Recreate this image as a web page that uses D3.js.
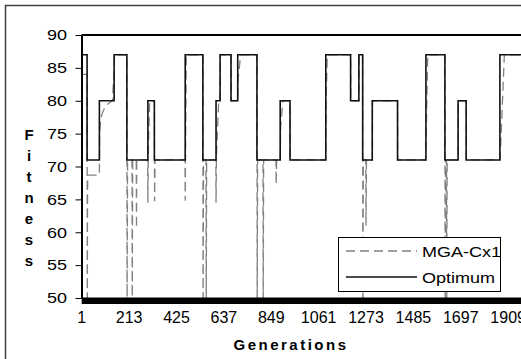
<!DOCTYPE html>
<html>
<head>
<meta charset="utf-8">
<script src="https://cdn.jsdelivr.net/npm/d3@7"></script>
<style>
  body { margin: 0; background: #fff; }
  svg { display: block; }
  text { font-family: "Liberation Sans", Arial, sans-serif; fill: #000; }
</style>
</head>
<body>
<svg id="chart" width="521" height="359"></svg>
<script>
// ---- data ----
const yTicks = [50, 55, 60, 65, 70, 75, 80, 85, 90];
const xLabels = [1, 213, 425, 637, 849, 1061, 1273, 1485, 1697, 1909];
const totalGens = 2000;
const titleLetters = ['F', 'i', 't', 'n', 'e', 's', 's'];

// Optimum: generation where each new level starts, and that level
const optGen = [1, 25, 80, 146, 203, 297, 326, 464, 543, 602, 620, 669, 699, 785, 889, 933,
  1093, 1204, 1241, 1258, 1301, 1414, 1541, 1626, 1685, 1721, 1872];
const optVal = [87, 71, 80, 87, 71, 80, 71, 87, 71, 80, 87, 80, 87, 71, 80, 71,
  87, 80, 87, 71, 80, 71, 87, 71, 80, 71, 87];

// MGA-Cx1: best fitness, sampled at the generations where it changes
const mgaGen = [1, 25, 26, 27, 28, 80, 81, 87, 95, 110, 130, 139, 148,
  203, 204, 206, 226, 227, 229, 245, 246, 247, 296, 297, 299, 305, 326, 327, 329,
  463, 464, 469, 543, 544, 546, 557, 558, 560, 601, 602, 604, 614, 620, 622,
  669, 670, 699, 700, 712, 785, 786, 788, 812, 813, 815, 870, 871, 873,
  889, 891, 901, 933, 934, 1093, 1095, 1100, 1204, 1205, 1241, 1242,
  1258, 1259, 1261, 1272, 1273, 1275, 1301, 1302, 1414, 1415, 1540, 1549,
  1626, 1627, 1629, 1633, 1634, 1636, 1685, 1686, 1721, 1722, 1872, 1876, 1892, 2000];
const mgaVal = [84, 84, 48, 66, 68.7, 68.7, 75.3, 77.4, 78.3, 79.3, 79.8, 80, 87,
  87, 48, 71, 71, 48, 71, 71, 60.6, 71, 71, 64.5, 72.5, 80, 80, 64.7, 71,
  71, 64.8, 87, 87, 48, 71, 71, 48, 71, 71, 64.5, 72, 80, 80, 87,
  87, 80, 80, 83, 87, 87, 48, 71, 71, 48, 71, 71, 67.3, 71,
  71, 76, 80, 80, 71, 71, 81, 87, 87, 80, 80, 87,
  87, 48, 71, 71, 61, 71, 71, 80, 80, 71, 71, 87,
  87, 48, 71, 71, 48, 71, 71, 80, 80, 71, 71, 73.6, 87, 87];

// ---- layout ----
const plotLeft = 81.5, plotRight = 528.5, plotTop = 35, plotBottom = 298;
const textStretch = 1.2;

const svg = d3.select('#chart');

// outer chart frame (right and bottom edges fall outside the picture)
svg.append('rect')
  .attr('x', 5.5).attr('y', 5.5)
  .attr('width', 600).attr('height', 400)
  .attr('fill', 'none')
  .attr('stroke', '#404040')
  .attr('stroke-width', 1.5);

const x = d3.scaleLinear().domain([0, totalGens]).range([plotLeft, plotRight]);
const y = d3.scaleLinear().domain([50, 90]).range([plotBottom, plotTop]);

svg.append('clipPath').attr('id', 'plotClip')
  .append('rect')
  .attr('x', plotLeft).attr('y', plotTop)
  .attr('width', plotRight - plotLeft).attr('height', plotBottom - plotTop);

// top line at 90
svg.append('line')
  .attr('x1', plotLeft).attr('x2', plotRight)
  .attr('y1', y(90)).attr('y2', y(90))
  .attr('stroke', '#000').attr('stroke-width', 2);

// series
const mgaData = mgaGen.map((g, i) => [g, mgaVal[i]]);
const optData = optGen.map((g, i) => [g, optVal[i]]).concat([[totalGens, optVal[optVal.length - 1]]]);

const plot = svg.append('g').attr('clip-path', 'url(#plotClip)');

plot.append('path')
  .datum(mgaData)
  .attr('fill', 'none')
  .attr('stroke', '#808080')
  .attr('stroke-width', 1.3)
  .attr('stroke-dasharray', '9,5')
  .attr('d', d3.line().x(d => x(d[0])).y(d => y(d[1])));

plot.append('path')
  .datum(optData)
  .attr('fill', 'none')
  .attr('stroke', '#111')
  .attr('stroke-width', 1.6)
  .attr('d', d3.line().curve(d3.curveStepAfter).x(d => x(d[0])).y(d => y(d[1])));

// y axis
const yAxis = svg.append('g')
  .attr('transform', `translate(${plotLeft},0)`)
  .call(d3.axisLeft(y).tickValues(yTicks).tickSize(6).tickSizeOuter(0).tickFormat(''));
yAxis.select('.domain').attr('stroke', '#000').attr('stroke-width', 2);
yAxis.selectAll('.tick line').attr('stroke', '#000').attr('stroke-width', 1);

// x axis: one tick per generation gives the dense band
const xAxis = svg.append('g')
  .attr('transform', `translate(0,${plotBottom})`)
  .call(d3.axisBottom(x).tickValues(d3.range(1, totalGens + 1)).tickSize(6).tickSizeOuter(0).tickFormat(''));
xAxis.select('.domain').attr('stroke', '#000').attr('stroke-width', 2);
xAxis.selectAll('.tick line').attr('stroke', '#000').attr('stroke-width', 1);

// stretched text helper
function stretchText(parent, px, py, txt, anchor, size, bold) {
  const t = parent.append('g')
    .attr('transform', `translate(${px},${py}) scale(${textStretch},1)`)
    .append('text')
    .attr('text-anchor', anchor)
    .style('font-size', size + 'px')
    .text(txt);
  if (bold) t.style('font-weight', 'bold');
  return t;
}

// y tick labels
yTicks.forEach(v => {
  stretchText(svg, 67, y(v) + 5.3, v, 'end', 15);
});

// x tick labels
xLabels.forEach(v => {
  svg.append('text')
    .attr('x', x(v))
    .attr('y', 323)
    .attr('text-anchor', 'middle')
    .style('font-size', '16px')
    .text(v);
});

// axis titles
svg.append('text')
  .attr('x', 291)
  .attr('y', 350)
  .attr('text-anchor', 'middle')
  .style('font-size', '15px')
  .style('font-weight', 'bold')
  .style('letter-spacing', '2.5px')
  .text('Generations');

titleLetters.forEach((ch, i) => {
  svg.append('text')
    .attr('x', 29)
    .attr('y', 140 + i * 21)
    .attr('text-anchor', 'middle')
    .style('font-size', '15px')
    .style('font-weight', 'bold')
    .text(ch);
});

// legend
const legend = svg.append('g');
legend.append('rect')
  .attr('x', 338.5).attr('y', 237.5)
  .attr('width', 162).attr('height', 54)
  .attr('fill', '#fff')
  .attr('stroke', '#000')
  .attr('stroke-width', 1);

const legendItems = [
  { name: 'MGA-Cx1', dash: '9,5', color: '#808080', width: 1.3 },
  { name: 'Optimum', dash: null, color: '#111', width: 1.6 }
];
legendItems.forEach((it, i) => {
  const ly = 251 + i * 26;
  legend.append('line')
    .attr('x1', 346).attr('x2', 417)
    .attr('y1', ly).attr('y2', ly)
    .attr('stroke', it.color)
    .attr('stroke-width', it.width)
    .attr('stroke-dasharray', it.dash);
  stretchText(legend, 422, ly + 5.5, it.name, 'start', 15);
});
</script>
</body>
</html>
